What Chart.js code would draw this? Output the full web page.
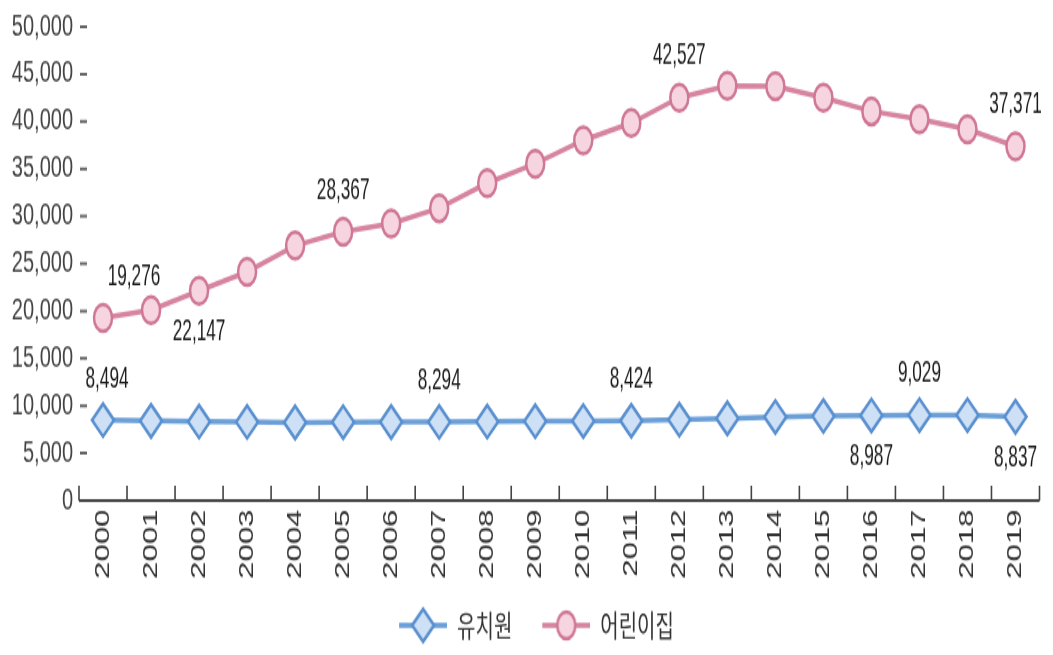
<!DOCTYPE html>
<html>
<head>
<meta charset="utf-8">
<script src="https://cdn.jsdelivr.net/npm/chart.js@4.4.0/dist/chart.umd.min.js"></script>
<style>
  html { overflow: hidden; }
  body { margin: 0; padding: 0; background: #fff; height: 655px; }
  /* the source image is stretched vertically, so draw short and stretch */
  #chart { display: block; transform: scaleY(1.4853); transform-origin: 0 0; }
</style>
</head>
<body>
<canvas id="chart" width="1053" height="441"></canvas>
<script>
// Data
const years = ["2000", "2001", "2002", "2003", "2004", "2005", "2006", "2007", "2008", "2009",
               "2010", "2011", "2012", "2013", "2014", "2015", "2016", "2017", "2018", "2019"];
const kindergarten = [8494, 8407, 8343, 8292, 8246, 8275, 8290, 8294, 8344, 8373,
                      8388, 8424, 8538, 8678, 8826, 8930, 8987, 9029, 9021, 8837];
const daycare = [19276, 20097, 22147, 24142, 26903, 28367, 29233, 30856, 33499, 35550,
                 38021, 39842, 42527, 43770, 43742, 42517, 41084, 40238, 39171, 37371];
const yTickValues = [0, 5000, 10000, 15000, 20000, 25000, 30000, 35000, 40000, 45000, 50000];

// which points carry a value label
const kinderLabelled = [0, 7, 11, 16, 17, 19];
const kinderBelow = [16, 19];
const daycareLabelled = [0, 2, 5, 12, 19];
const daycareBelow = [2];

const BLUE = { line: "#6b9fd8", border: "#5a90d0", fill: "#cde0f5" };
const PINK = { line: "#d6849f", border: "#cf7795", fill: "#f6d5e0" };
const fmt = v => v.toLocaleString("en-US");

// legend icon: short line with the marker in the middle
function legendIcon(c, style) {
    const cv = document.createElement("canvas");
    cv.width = 72; cv.height = 28;
    const g = cv.getContext("2d");
    g.strokeStyle = c.line; g.lineWidth = 3.5;
    g.beginPath(); g.moveTo(24, 14); g.lineTo(72, 14); g.stroke();
    g.fillStyle = c.fill; g.strokeStyle = c.border; g.lineWidth = 2.5;
    g.beginPath();
    if (style === "diamond") {
        g.moveTo(37, 14); g.lineTo(48, 3); g.lineTo(59, 14); g.lineTo(48, 25); g.closePath();
    } else {
        g.arc(48, 14, 9, 0, Math.PI * 2);
    }
    g.fill(); g.stroke();
    return cv;
}
const icons = [legendIcon(BLUE, "diamond"), legendIcon(PINK, "circle")];

// axis line, upward category ticks and the short y dashes
const axisMarks = {
    id: "axisMarks",
    beforeDatasetsDraw(chart) {
        const { ctx, chartArea: a, scales: { y } } = chart;
        ctx.save();
        ctx.strokeStyle = "#444";
        ctx.lineWidth = 2;
        ctx.beginPath();
        ctx.moveTo(a.left, a.bottom); ctx.lineTo(a.right, a.bottom);
        ctx.stroke();
        ctx.lineWidth = 1.6;
        ctx.beginPath();
        const step = (a.right - a.left) / years.length;
        for (let k = 0; k <= years.length; k++) {
            const px = a.left + k * step;
            ctx.moveTo(px, a.bottom); ctx.lineTo(px, a.bottom - 10);
        }
        ctx.stroke();
        ctx.strokeStyle = "#666";
        ctx.lineWidth = 2;
        ctx.beginPath();
        y.ticks.forEach(t => {
            if (t.value === 0) return;
            const py = y.getPixelForValue(t.value);
            ctx.moveTo(a.left + 1, py); ctx.lineTo(a.left + 8, py);
        });
        ctx.stroke();
        ctx.restore();
    }
};

// value labels above / below selected points (narrowed like the source font)
const pointLabels = {
    id: "pointLabels",
    afterDatasetsDraw(chart) {
        const specs = [
            { ds: 0, idx: kinderLabelled, below: kinderBelow, nudge: { 0: 4 } },
            { ds: 1, idx: daycareLabelled, below: daycareBelow, nudge: { 0: 31 } }
        ];
        const ctx = chart.ctx;
        ctx.font = '21px "Liberation Sans", Arial, sans-serif';
        ctx.fillStyle = "#1a1a1a";
        ctx.textAlign = "center";
        ctx.textBaseline = "middle";
        specs.forEach(s => {
            const meta = chart.getDatasetMeta(s.ds);
            const values = chart.data.datasets[s.ds].data;
            s.idx.forEach(i => {
                const pt = meta.data[i];
                const dy = s.below.includes(i) ? 28 : -28;
                ctx.save();
                ctx.translate(pt.x + (s.nudge[i] || 0), pt.y + dy);
                ctx.scale(0.82, 1);
                ctx.fillText(fmt(values[i]), 0, 0);
                ctx.restore();
            });
        });
    }
};

new Chart(document.getElementById("chart"), {
    type: "line",
    data: {
        labels: years,
        datasets: [
            {
                label: "유치원",
                data: kindergarten,
                borderColor: BLUE.line,
                borderWidth: 3.5,
                pointStyle: "rectRot",
                pointRadius: 11,
                pointBackgroundColor: BLUE.fill,
                pointBorderColor: BLUE.border,
                pointBorderWidth: 2.5,
                tension: 0
            },
            {
                label: "어린이집",
                data: daycare,
                borderColor: PINK.line,
                borderWidth: 3.5,
                pointStyle: "circle",
                pointRadius: 9,
                pointBackgroundColor: PINK.fill,
                pointBorderColor: PINK.border,
                pointBorderWidth: 2.5,
                tension: 0
            }
        ]
    },
    options: {
        responsive: false,
        animation: false,
        events: [],
        layout: { padding: { top: 14, right: 4, left: 0, bottom: 0 } },
        plugins: {
            tooltip: { enabled: false },
            legend: {
                position: "bottom",
                labels: {
                    usePointStyle: true,
                    pointStyleWidth: 72,
                    boxHeight: 20,
                    padding: 6,
                    color: "#333",
                    font: { family: '"Noto Sans CJK KR", "Noto Sans", sans-serif', size: 20 },
                    generateLabels: chart => chart.data.datasets.map((ds, i) => ({
                        text: ds.label,
                        pointStyle: icons[i],
                        fillStyle: "transparent",
                        strokeStyle: "transparent",
                        lineWidth: 0,
                        fontColor: "#333",
                        hidden: false,
                        datasetIndex: i
                    }))
                }
            }
        },
        scales: {
            x: {
                offset: true,
                grid: { display: false, drawTicks: false },
                border: { display: false },
                ticks: {
                    color: "#333",
                    font: { family: 'Arial, "Liberation Sans", sans-serif', size: 21 },
                    minRotation: 90,
                    maxRotation: 90,
                    autoSkip: false,
                    padding: 6
                },
                afterFit: s => { s.height = 68; }
            },
            y: {
                min: 0,
                max: 50000,
                grid: { display: false, drawTicks: false },
                border: { display: false },
                afterBuildTicks: s => { s.ticks = yTickValues.map(v => ({ value: v })); },
                ticks: {
                    color: "#444",
                    font: { family: 'Arial, "Liberation Sans", sans-serif', size: 20 },
                    padding: 6,
                    callback: v => fmt(v)
                },
                afterFit: s => { s.width = 79; }
            }
        }
    },
    plugins: [axisMarks, pointLabels]
});
</script>
</body>
</html>
